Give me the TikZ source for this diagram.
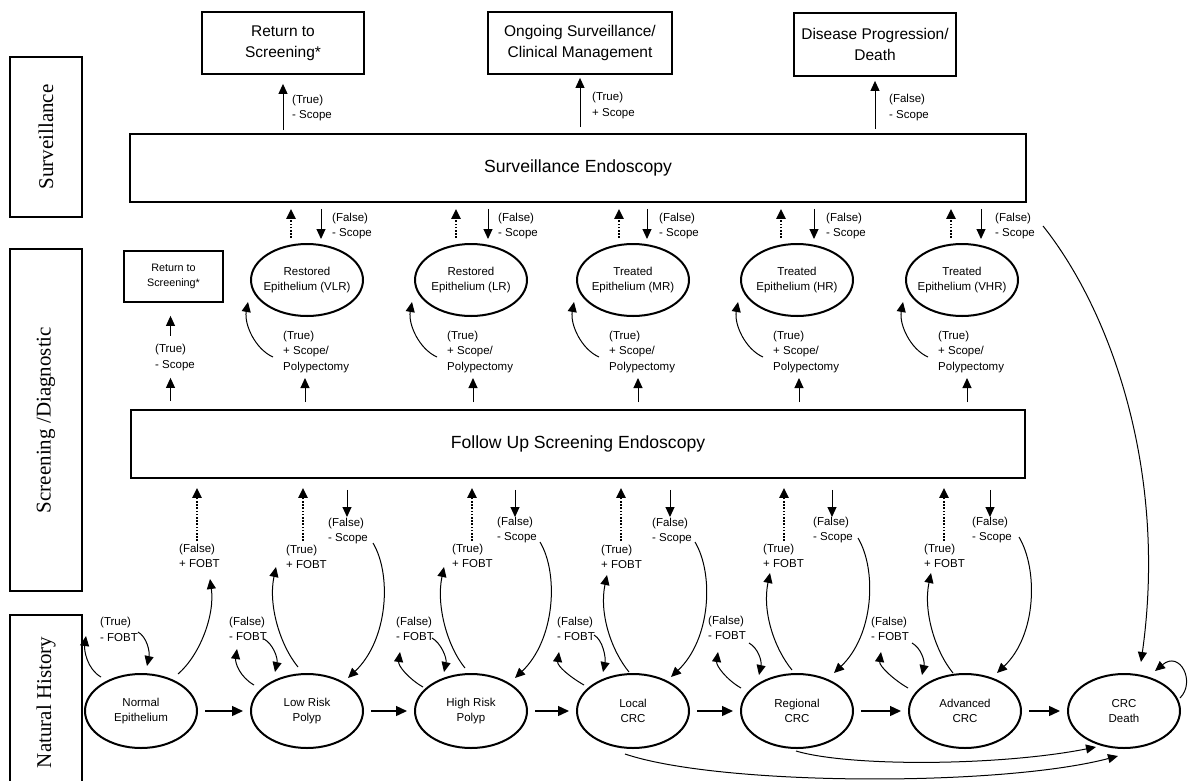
\documentclass[tikz,border=0pt]{standalone}
\usepackage{fontspec}
\setmainfont{Liberation Sans}
\newfontfamily\sideserif{Liberation Serif}
\usetikzlibrary{arrows.meta,shapes.geometric,calc}
\newcommand{\myfs}[2]{\fontsize{#1}{#2}\selectfont}
\tikzset{
  arr/.style={-{Triangle[length=10pt,width=9pt]}, line width=1pt},
  harr/.style={-{Triangle[length=11pt,width=10pt]}, line width=1.4pt, shorten <=7pt, shorten >=7pt},
  dotarr/.style={-{Triangle[length=10pt,width=9pt]}, line width=2.2pt, dash pattern=on 1.6pt off 1.6pt},
  lbl/.style={font=\myfs{11.5}{15.5}, align=left, inner sep=0pt, anchor=west},
  sidebox/.style={draw, line width=1.8pt, rotate=90, font=\sideserif\myfs{21}{25}, inner sep=0pt, minimum height=72pt},
  topbox/.style={draw, line width=1.8pt, align=center, font=\myfs{15.5}{21}, inner sep=0pt},
  bigbox/.style={draw, line width=1.8pt, font=\myfs{17.6}{21}, inner sep=0pt, minimum height=68pt},
  smallbox/.style={draw, line width=1.8pt, align=center, font=\myfs{10.8}{15}, inner sep=0pt},
  ell/.style={ellipse, draw, line width=2pt, minimum width=112pt, minimum height=72pt, inner sep=0pt},
  nell/.style={ell, minimum height=74pt},
  elltext/.style={font=\myfs{11.5}{15.5}, align=center, inner sep=0pt},
}
\begin{document}
\begin{tikzpicture}[x=1pt,y=-1pt]
\useasboundingbox (0,0) rectangle (1189,780);

% side label boxes
\node[sidebox, minimum width=160pt] (sideS) at (46,137) {Surveillance};
\node[sidebox, minimum width=342pt] (sideD) at (46,420) {Screening /Diagnostic};
\node[sidebox, minimum width=175pt] (sideN) at (46,702.5) {Natural History};

% top outcome boxes
\node[topbox, minimum width=162pt, minimum height=62pt] (tRet) at (283,43) {Return to\\Screening*};
\node[topbox, minimum width=184pt, minimum height=62pt] (tOng) at (580,43) {Ongoing Surveillance/\\Clinical Management};
\node[topbox, minimum width=162pt, minimum height=63pt] (tDis) at (875,44.5) {Disease Progression/\\Death};

% big boxes
\node[bigbox, minimum width=896pt] (surv) at (578,168) {Surveillance Endoscopy};
\node[bigbox, minimum width=894pt] (follow) at (578,444) {Follow Up Screening Endoscopy};

% arrows to top boxes
\draw[arr, shorten <=3pt, shorten >=9pt] (surv.north -| tRet.south) -- (tRet.south);
\node[lbl] (lRet) at (292,108) {(True)\\- Scope};
\draw[arr, shorten <=6pt, shorten >=3pt] (surv.north -| tOng.south) -- (tOng.south);
\node[lbl] (lOng) at (592,105.5) {(True)\\+ Scope};
\draw[arr, shorten <=4pt, shorten >=4pt] (surv.north -| tDis.south) -- (tDis.south);
\node[lbl] (lDis) at (889,107.5) {(False)\\- Scope};

% top ellipses
\node[ell, label={[elltext]center:Restored\\Epithelium (VLR)}] (eA) at (307,280) {};
\node[ell, label={[elltext]center:Restored\\Epithelium (LR)}] (eB) at (471,280) {};
\node[ell, label={[elltext]center:Treated\\Epithelium (MR)}] (eC) at (633,280) {};
\node[ell, label={[elltext]center:Treated\\Epithelium (HR)}] (eD) at (797,280) {};
\node[ell, label={[elltext]center:Treated\\Epithelium (VHR)}] (eE) at (962,280) {};

\foreach \e/\d/\s/\l/\u/\n in {eA/-16/14/25/-2/A, eB/-15/17/27/2/B, eC/-14/14/26/5/C, eD/-16/17/29/2/D, eE/-11/19/33/5/E} {
  \draw[dotarr] ($(\e.north)+(\d,-5)$) -- ($(\e.north |- surv.south)+(\d,6)$);
  \draw[arr] ($(\e.north |- surv.south)+(\s,6)$) -- ($(\e.north)+(\s,-4)$);
  \node[lbl] (fs\n) at ($(\e.center)+(\l,-54)$) {(False)\\- Scope};
  \draw[arr] ($(\e.south |- follow.north)+(\u,-7)$) -- ($(\e.south)+(\u,61)$);
  \node[lbl] (ts\n) at ($(\e.center)+(-24,72)$) {(True)\\+ Scope/\\Polypectomy};
  \draw[arr] ($(\e.center)+(-34,77)$) .. controls +(-18,-8) and +(-4,22) .. ($(\e.center)+(-59,22)$);
}

% small return box
\node[smallbox, minimum width=99pt, minimum height=51pt] (rS) at (173.5,276.5) {Return to\\Screening*};
\draw[arr] ($(rS.south)+(-3,33)$) -- ($(rS.south)+(-3,13)$);
\node[lbl] (lRS) at (155,357.5) {(True)\\- Scope};
\draw[arr] ($(rS.south |- follow.north)+(-3,-8)$) -- ($(rS.south)+(-3,75)$);

% natural history states
\node[nell, label={[elltext]center:Normal\\Epithelium}] (nN) at (141,711) {};
\node[nell, label={[elltext]center:Low Risk\\Polyp}] (nL) at (307,711) {};
\node[nell, label={[elltext]center:High Risk\\Polyp}] (nH) at (471,711) {};
\node[nell, label={[elltext]center:Local\\CRC}] (nC) at (633,711) {};
\node[nell, label={[elltext]center:Regional\\CRC}] (nR) at (797,711) {};
\node[nell, label={[elltext]center:Advanced\\CRC}] (nA) at (965,711) {};
\node[nell, label={[elltext]center:CRC\\Death}] (nD) at (1124,711) {};

\draw[harr] (nN) -- (nL);
\draw[harr] (nL) -- (nH);
\draw[harr] (nH) -- (nC);
\draw[harr] (nC) -- (nR);
\draw[harr] (nR) -- (nA);
\draw[harr] (nA) -- (nD);

% long arcs to death
\draw[arr] ($(nR.south)+(-1,2)$) .. controls +(54,16) and +(-96,19) .. ($(nD.center)+(-28,36)$);
\draw[arr] ($(nC.south)+(-8,5)$) .. controls +(95,32) and +(-118,31) .. ($(nD.south)+(-6,7)$);
\draw[arr] ($(nD.center)+(56,-13)$) .. controls +(16,-16) and +(25,-21) .. ($(nD.center)+(31,-40)$);
\draw[arr] ($(fsE.east)+(8,0)$) .. controls (1110,310) and (1168,470) .. ($(nD.north)+(17,-11)$);

% Normal column
\node[lbl] (tfN) at ($(nN.center)+(-41,-81.5)$) {(True)\\- FOBT};
\draw[arr] ($(nN.center)+(-40,-34)$) .. controls +(-14,-8) and +(-2,14) .. ($(nN.center)+(-55,-75)$);
\draw[arr] ($(nN.center)+(-3,-79)$) .. controls +(9,5) and +(3,-14) .. ($(nN.center)+(6,-45)$);
\draw[arr] ($(nN.center)+(37,-37)$) .. controls +(22,-19) and +(5,36) .. ($(nN.center)+(69,-132)$);
\node[lbl] (fpN) at ($(nN.center)+(38,-155)$) {(False)\\+ FOBT};
\draw[dotarr] ($(nN.center)+(56,-170)$) -- ($(nN.center |- follow.south)+(56,9)$);

% Low risk column
\node[lbl] (ffL) at ($(nL.center)+(-78,-82)$) {(False)\\- FOBT};
\draw[arr] ($(nL.center)+(-53,-26)$) .. controls +(-14,-8) and +(-2,14) .. ($(nL.center)+(-70,-62)$);
\draw[arr] ($(nL.center)+(-43,-72)$) .. controls +(9,5) and +(3,-14) .. ($(nL.center)+(-32,-39)$);
\draw[arr] ($(nL.center)+(-9,-44)$) .. controls +(-18,-22) and +(-8,38) .. ($(nL.center)+(-31,-144)$);
\node[lbl] (tfL) at ($(nL.center)+(-21,-154)$) {(True)\\+ FOBT};
\draw[dotarr] ($(nL.center)+(-4,-170)$) -- ($(nL.center |- follow.south)+(-4,9)$);
\draw[arr] ($(nL.center |- follow.south)+(40,11)$) -- ($(nL.center)+(40,-194)$);
\node[lbl] (fsL) at ($(nL.center)+(21,-180)$) {(False)\\- Scope};
\draw[arr] ($(nL.center)+(66,-168)$) .. controls +(19,32) and +(40,-38) .. ($(nL.center)+(41,-33)$);

% High risk column
\node[lbl] (ffH) at ($(nH.center)+(-75,-82)$) {(False)\\- FOBT};
\draw[arr] ($(nH.center)+(-48,-24)$) .. controls +(-14,-8) and +(-2,14) .. ($(nH.center)+(-71,-59)$);
\draw[arr] ($(nH.center)+(-39,-73)$) .. controls +(9,5) and +(3,-14) .. ($(nH.center)+(-27,-39)$);
\draw[arr] ($(nH.center)+(-6,-43)$) .. controls +(-18,-22) and +(-8,38) .. ($(nH.center)+(-27,-144)$);
\node[lbl] (tfH) at ($(nH.center)+(-19,-155)$) {(True)\\+ FOBT};
\draw[dotarr] ($(nH.center)+(1,-170)$) -- ($(nH.center |- follow.south)+(1,9)$);
\draw[arr] ($(nH.center |- follow.south)+(44,11)$) -- ($(nH.center)+(44,-194)$);
\node[lbl] (fsH) at ($(nH.center)+(26,-181)$) {(False)\\- Scope};
\draw[arr] ($(nH.center)+(69,-169)$) .. controls +(19,32) and +(40,-38) .. ($(nH.center)+(44,-33)$);

% Local column
\node[lbl] (ffC) at ($(nC.center)+(-76,-82)$) {(False)\\- FOBT};
\draw[arr] ($(nC.center)+(-49,-26)$) .. controls +(-14,-8) and +(-2,14) .. ($(nC.center)+(-74,-59)$);
\draw[arr] ($(nC.center)+(-39,-76)$) .. controls +(9,5) and +(3,-14) .. ($(nC.center)+(-30,-39)$);
\draw[arr] ($(nC.center)+(-4,-39)$) .. controls +(-18,-22) and +(-8,38) .. ($(nC.center)+(-26,-136)$);
\node[lbl] (tfC) at ($(nC.center)+(-32,-154)$) {(True)\\+ FOBT};
\draw[dotarr] ($(nC.center)+(-12,-170)$) -- ($(nC.center |- follow.south)+(-12,9)$);
\draw[arr] ($(nC.center |- follow.south)+(37,11)$) -- ($(nC.center)+(37,-194)$);
\node[lbl] (fsC) at ($(nC.center)+(19,-180)$) {(False)\\- Scope};
\draw[arr] ($(nC.center)+(62,-169)$) .. controls +(19,32) and +(40,-38) .. ($(nC.center)+(38,-34)$);

% Regional column
\node[lbl] (ffR) at ($(nR.center)+(-89,-83)$) {(False)\\- FOBT};
\draw[arr] ($(nR.center)+(-56,-23)$) .. controls +(-14,-8) and +(-2,14) .. ($(nR.center)+(-79,-59)$);
\draw[arr] ($(nR.center)+(-48,-68)$) .. controls +(9,5) and +(3,-14) .. ($(nR.center)+(-38,-36)$);
\draw[arr] ($(nR.center)+(-5,-41)$) .. controls +(-18,-22) and +(-8,38) .. ($(nR.center)+(-27,-138)$);
\node[lbl] (tfR) at ($(nR.center)+(-34,-155)$) {(True)\\+ FOBT};
\draw[dotarr] ($(nR.center)+(-13,-170)$) -- ($(nR.center |- follow.south)+(-13,9)$);
\draw[arr] ($(nR.center |- follow.south)+(35,11)$) -- ($(nR.center)+(35,-194)$);
\node[lbl] (fsR) at ($(nR.center)+(16,-181)$) {(False)\\- Scope};
\draw[arr] ($(nR.center)+(61,-173)$) .. controls +(19,32) and +(40,-38) .. ($(nR.center)+(37,-38)$);

% Advanced column
\node[lbl] (ffA) at ($(nA.center)+(-94,-82)$) {(False)\\- FOBT};
\draw[arr] ($(nA.center)+(-57,-23)$) .. controls +(-14,-8) and +(-2,14) .. ($(nA.center)+(-84,-59)$);
\draw[arr] ($(nA.center)+(-53,-68)$) .. controls +(9,5) and +(3,-14) .. ($(nA.center)+(-43,-36)$);
\draw[arr] ($(nA.center)+(-12,-38)$) .. controls +(-18,-22) and +(-8,38) .. ($(nA.center)+(-34,-138)$);
\node[lbl] (tfA) at ($(nA.center)+(-41,-155)$) {(True)\\+ FOBT};
\draw[dotarr] ($(nA.center)+(-21,-170)$) -- ($(nA.center |- follow.south)+(-21,9)$);
\draw[arr] ($(nA.center |- follow.south)+(25,11)$) -- ($(nA.center)+(25,-194)$);
\node[lbl] (fsA) at ($(nA.center)+(7,-181)$) {(False)\\- Scope};
\draw[arr] ($(nA.center)+(54,-174)$) .. controls +(19,32) and +(40,-38) .. ($(nA.center)+(32,-38)$);

\end{tikzpicture}
\end{document}
